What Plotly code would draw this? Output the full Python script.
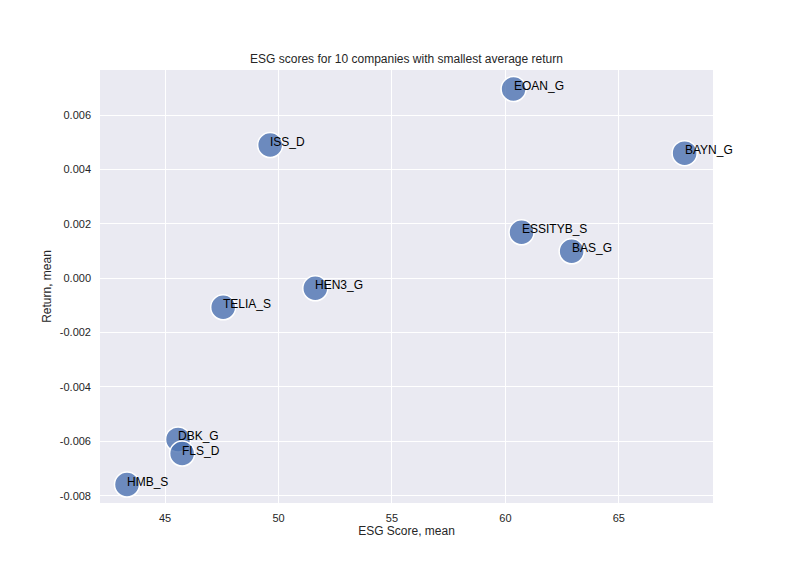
import plotly.graph_objects as go

# Données
companies = ['EOAN_G', 'ISS_D', 'BAYN_G', 'ESSITYB_S', 'BAS_G',
             'HEN3_G', 'TELIA_S', 'DBK_G', 'FLS_D', 'HMB_S']
esg_mean = [60.36, 49.63, 67.90, 60.71, 62.92, 51.62, 47.56, 45.57, 45.75, 43.32]
return_mean = [0.00696, 0.00490, 0.00460, 0.00169, 0.00099,
               -0.00037, -0.00107, -0.00593, -0.00645, -0.00759]

y_ticks = [-0.008, -0.006, -0.004, -0.002, 0.0, 0.002, 0.004, 0.006]
y_labels = ['-0.008', '-0.006', '-0.004', '-0.002', '0.000', '0.002', '0.004', '0.006']

font_family = 'Liberation Sans, Arial, sans-serif'

fig = go.Figure()

fig.add_trace(go.Scatter(
    x=esg_mean,
    y=return_mean,
    mode='markers',
    marker=dict(size=25, color='rgba(76,114,176,0.8)',
                line=dict(color='white', width=1.5)),
    hoverinfo='text',
    text=companies,
    showlegend=False,
))

# Étiquettes des points (alignées à gauche sur le centre du marqueur)
for nom, x, y in zip(companies, esg_mean, return_mean):
    fig.add_annotation(
        x=x, y=y, text=nom, showarrow=False,
        xanchor='left', yanchor='middle', xshift=-2, yshift=3,
        font=dict(family=font_family, size=12, color='black'),
    )

fig.update_layout(
    width=792,
    height=576,
    margin=dict(l=100, r=79, t=70, b=73),
    paper_bgcolor='white',
    plot_bgcolor='#eaeaf2',
    font=dict(family=font_family, size=11, color='#262626'),
    title=dict(text='ESG scores for 10 companies with smallest average return',
               x=0.5 + (100 - 79) / 2 / 792, xanchor='center', y=1 - 59 / 576, yanchor='middle',
               font=dict(size=12, color='#262626')),
    xaxis=dict(
        title=dict(text='ESG Score, mean', font=dict(size=12), standoff=2),
        range=[42.13, 69.15],
        tickvals=[45, 50, 55, 60, 65],
        ticklabelstandoff=7,
        gridcolor='white', gridwidth=1,
        zeroline=False, showline=False, ticks='',
    ),
    yaxis=dict(
        title=dict(text='Return, mean', font=dict(size=12), standoff=5),
        range=[-0.00827, 0.00766],
        tickvals=y_ticks,
        ticktext=y_labels,
        ticklabelstandoff=8,
        gridcolor='white', gridwidth=1,
        zeroline=False, showline=False, ticks='',
    ),
)

# enlever la marge par défaut du body pour que la figure soit à (0, 0)
fig.write_html('out.html', config={'displayModeBar': False},
               post_script="document.body.style.margin='0';")
